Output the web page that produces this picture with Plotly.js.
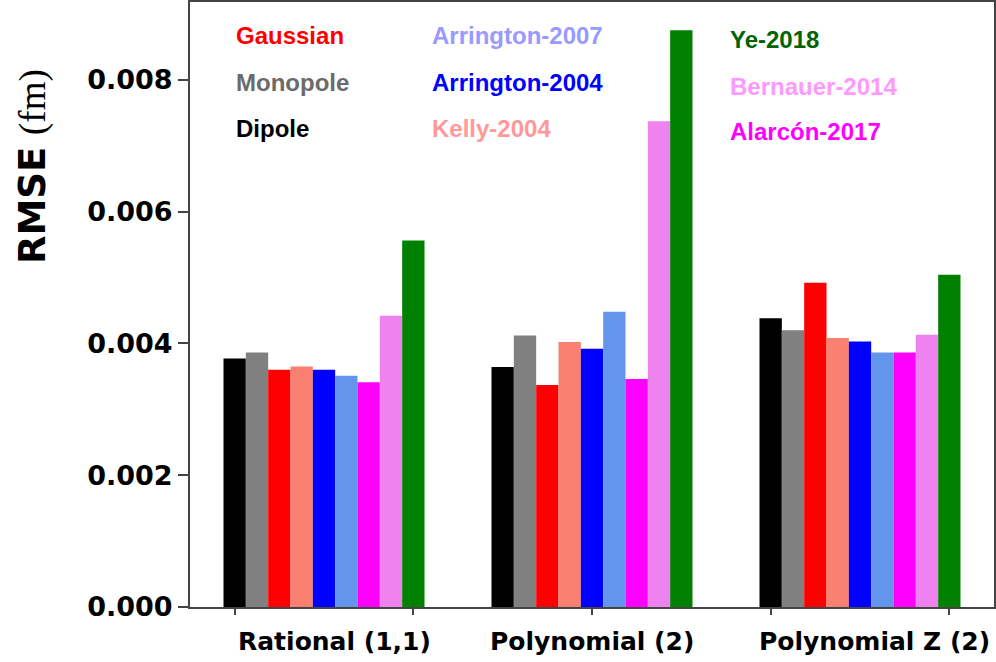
<!DOCTYPE html>
<html>
<head>
<meta charset="utf-8">
<script src="https://cdn.plot.ly/plotly-3.0.1.min.js"></script>
<style>html,body{margin:0;padding:0;background:#fff;}#chart{width:996px;height:662px;}</style>
</head>
<body>
<div id="chart"></div>
<script>
// Categories (x groups)
const categories = ["Rational (1,1)", "Polynomial (2)", "Polynomial Z (2)"];

// Series values (RMSE, fm)
const dipole        = [0.00377, 0.00364, 0.00438];
const monopole      = [0.00386, 0.00412, 0.00420];
const gaussian      = [0.00360, 0.00337, 0.00492];
const kelly2004     = [0.00365, 0.00402, 0.00408];
const arrington2004 = [0.00360, 0.00392, 0.00403];
const arrington2007 = [0.00351, 0.00448, 0.00386];
const alarcon2017   = [0.00341, 0.00346, 0.00386];
const bernauer2014  = [0.00442, 0.00737, 0.00413];
const ye2018        = [0.00556, 0.00875, 0.00504];

// Series names (in bar order)
const seriesNames = ["Dipole", "Monopole", "Gaussian", "Kelly-2004", "Arrington-2004",
                     "Arrington-2007", "Alarcón-2017", "Bernauer-2014", "Ye-2018"];
const seriesValues = [dipole, monopole, gaussian, kelly2004, arrington2004,
                      arrington2007, alarcon2017, bernauer2014, ye2018];
const barColors = ["#000000", "#808080", "#ff0000", "#fa8072", "#0000ff",
                   "#6495ed", "#ff00ff", "#ee82ee", "#008000"];

// Tick values
const yTickVals = [0, 0.002, 0.004, 0.006, 0.008];

// Legend text layout (3 columns)
const legendCols = [
  [["Gaussian", "#ff0000"], ["Monopole", "#6b6b6b"], ["Dipole", "#000000"]],
  [["Arrington-2007", "#9999ff"], ["Arrington-2004", "#0000ff"], ["Kelly-2004", "#ff9999"]],
  [["Ye-2018", "#006400"], ["Bernauer-2014", "#ff99ff"], ["Alarcón-2017", "#ff00ff"]]
];

const traces = seriesNames.map((name, i) => ({
  type: "bar",
  name: name,
  x: categories,
  y: seriesValues[i],
  marker: {color: barColors[i], line: {width: 0}},
  xaxis: "x", yaxis: "y",
  hoverinfo: "x+y+name"
}));
// dummy trace so the tick-only overlay axis is drawn
traces.push({type: "scatter", x: [null], y: [null], xaxis: "x2", yaxis: "y",
             showlegend: false, hoverinfo: "skip"});

const W = 996, H = 662;
const mL = 190, mR = 2, mT = 2, mB = 55;
const pw = W - mL - mR, ph = H - mT - mB;
function px2paperX(px) { return (px - mL) / pw; }
function px2paperY(py) { return (H - mB - py) / ph; }

const colX = [234, 430, 728];
const rowY = [[35, 82, 128], [35, 82, 128], [39, 86, 131]];
const annotations = [];
legendCols.forEach((col, ci) => {
  col.forEach((item, ri) => {
    annotations.push({
      xref: "paper", yref: "paper",
      x: px2paperX(colX[ci]), y: px2paperY(rowY[ci][ri]),
      xanchor: "left", yanchor: "middle",
      text: "<b>" + item[0] + "</b>",
      showarrow: false,
      font: {family: "Liberation Sans, Arial, sans-serif", size: 24, color: item[1]}
    });
  });
});
// category labels under the axis
const catShift = [10, 0, 14];
categories.forEach((c, i) => {
  annotations.push({
    xref: "x", yref: "paper",
    x: c, y: px2paperY(641),
    xshift: catShift[i],
    xanchor: "center", yanchor: "middle",
    text: "<b>" + c + "</b>",
    showarrow: false,
    font: {family: "DejaVu Sans, sans-serif", size: 25, color: "#000"}
  });
});
annotations.push({
  xref: "paper", yref: "paper",
  x: px2paperX(32), y: px2paperY(167),
  xanchor: "center", yanchor: "middle",
  textangle: -90,
  showarrow: false,
  text: "<b>RMSE</b> <span style=\"font-family:'Liberation Serif',serif;font-weight:normal\">(fm)</span>",
  font: {family: "DejaVu Sans, sans-serif", size: 37, color: "#000"}
});

const layout = {
  width: W, height: H,
  margin: {l: mL, r: mR, t: mT, b: mB, pad: 0},
  paper_bgcolor: "#fff", plot_bgcolor: "#fff",
  barmode: "group", bargap: 0.25, bargroupgap: 0,
  showlegend: false,
  xaxis: {
    type: "category",
    showgrid: false, zeroline: false,
    showline: true, linecolor: "#444", linewidth: 2, mirror: true,
    ticks: "", showticklabels: false
  },
  xaxis2: {
    overlaying: "x", anchor: "y", side: "bottom",
    range: [-0.5, 2.5], tick0: -1/3, dtick: 2/3,
    showticklabels: false, showgrid: false, zeroline: false, showline: false,
    ticks: "outside", ticklen: 7, tickwidth: 2, tickcolor: "#444"
  },
  yaxis: {
    range: [0, 0.00918],
    tickvals: yTickVals, tickformat: ".3f",
    showgrid: false, zeroline: false,
    showline: true, linecolor: "#444", linewidth: 2, mirror: true,
    ticks: "outside", ticklen: 10, tickwidth: 2, tickcolor: "#444",
    tickfont: {family: "DejaVu Sans, sans-serif", size: 27, color: "#000", weight: "bold"}
  },
  annotations: annotations
};

Plotly.newPlot("chart", traces, layout, {displayModeBar: false, staticPlot: true});
</script>
</body>
</html>
